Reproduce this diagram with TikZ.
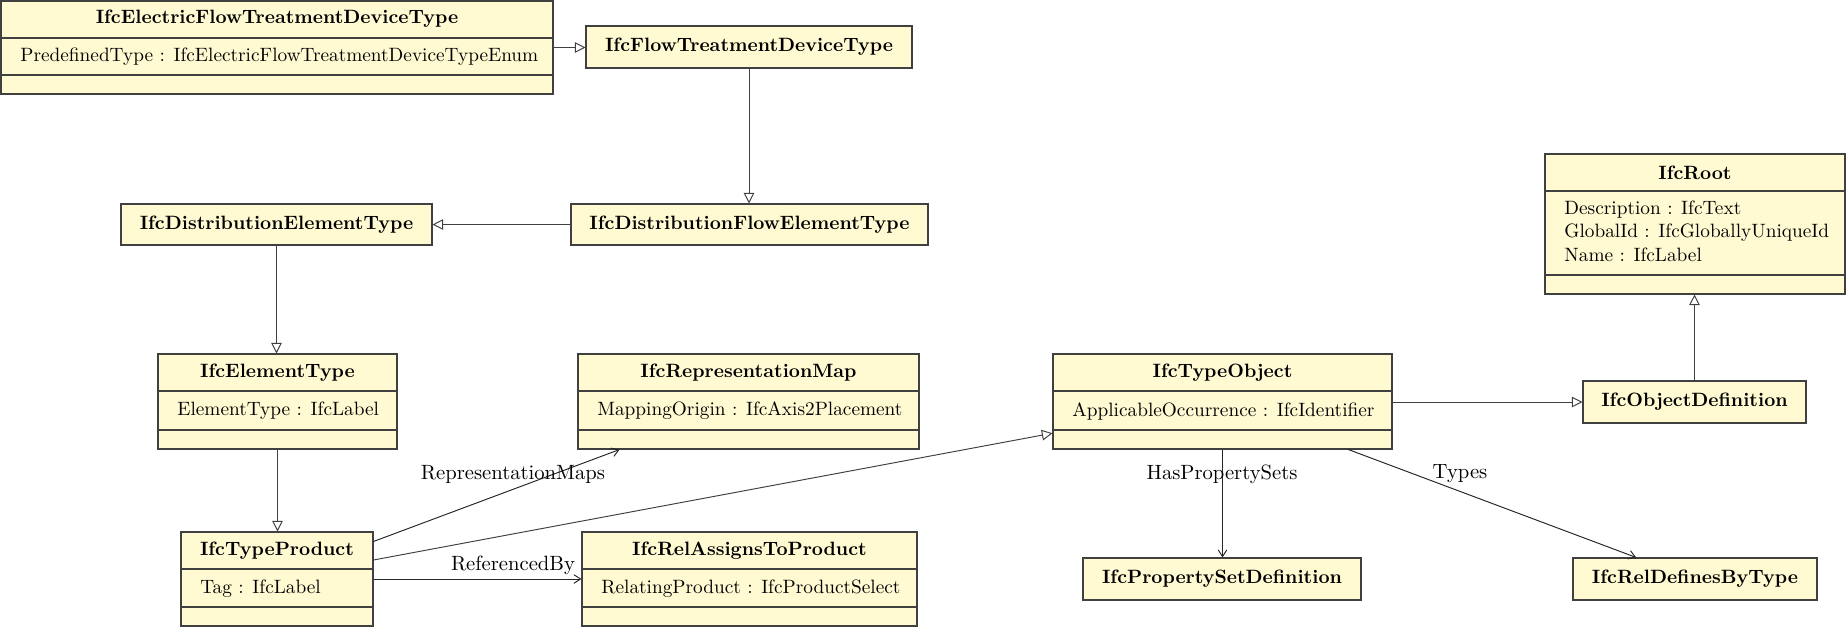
\documentclass[tikz,border=0pt]{standalone}
\usetikzlibrary{arrows.meta,fit,calc}
\definecolor{clsfill}{RGB}{255,250,210}
\definecolor{clsline}{RGB}{64,64,64}
\begin{document}
\begin{tikzpicture}[x=0.518pt,y=-0.518pt,
 cls/.style={draw=clsline, fill=clsfill, line width=0.55pt, inner sep=0pt},
 ttl/.style={font=\bfseries, inner sep=0pt},
 attr/.style={anchor=west, inner sep=0pt},
 sep/.style={draw=clsline, line width=0.55pt},
 gen/.style={draw=clsline, line width=0.5pt, -{Triangle[open,length=5.5pt,width=5.5pt]}},
 assoc/.style={draw=black!85, line width=0.5pt, -{Straight Barb[length=3.5pt,width=4.5pt]}},
 lbl/.style={inner sep=0pt, font=\fontsize{10.7}{13}\selectfont}]
\useasboundingbox (0,0) rectangle (1846,627);

% IfcElectricFlowTreatmentDeviceType
\node[cls, fit={(1,1) (553,94)}] (eftdt) {};
\draw[sep] (1,38) -- (553,38);
\draw[sep] (1,75) -- (553,75);
\node[ttl] (eftdt-t) at (277,19) {IfcElectricFlowTreatmentDeviceType};
\node[attr] (eftdt-a) at (20,56.5) {PredefinedType : IfcElectricFlowTreatmentDeviceTypeEnum};

% IfcFlowTreatmentDeviceType
\node[cls, fit={(586,26) (912,68)}] (ftdt) {};
\node[ttl] (ftdt-t) at (749,47) {IfcFlowTreatmentDeviceType};

% IfcDistributionElementType
\node[cls, fit={(121,204) (432,245)}] (det) {};
\node[ttl] (det-t) at (276.5,224.5) {IfcDistributionElementType};

% IfcDistributionFlowElementType
\node[cls, fit={(571,204) (928,245)}] (dfet) {};
\node[ttl] (dfet-t) at (749.5,224.5) {IfcDistributionFlowElementType};

% IfcRoot
\node[cls, fit={(1545,154) (1845,294)}] (root) {};
\draw[sep] (1545,191) -- (1845,191);
\draw[sep] (1545,275) -- (1845,275);
\node[ttl] (root-t) at (1695,172.5) {IfcRoot};
\node[attr] (root-a1) at (1564,210) {Description : IfcText};
\node[attr] (root-a2) at (1564,233) {GlobalId : IfcGloballyUniqueId};
\node[attr] (root-a3) at (1564,255) {Name : IfcLabel};

% IfcElementType
\node[cls, fit={(158,354) (397,449)}] (et) {};
\draw[sep] (158,391) -- (397,391);
\draw[sep] (158,430) -- (397,430);
\node[ttl] (et-t) at (277.5,372.5) {IfcElementType};
\node[attr] (et-a) at (177,411) {ElementType : IfcLabel};

% IfcRepresentationMap
\node[cls, fit={(578,354) (919,449)}] (rm) {};
\draw[sep] (578,391) -- (919,391);
\draw[sep] (578,430) -- (919,430);
\node[ttl] (rm-t) at (748.5,372.5) {IfcRepresentationMap};
\node[attr] (rm-a) at (597,411) {MappingOrigin : IfcAxis2Placement};

% IfcTypeObject
\node[cls, fit={(1053,354) (1392,449)}] (to) {};
\draw[sep] (1053,391) -- (1392,391);
\draw[sep] (1053,430) -- (1392,430);
\node[ttl] (to-t) at (1222.5,372.5) {IfcTypeObject};
\node[attr] (to-a) at (1072,411) {ApplicableOccurrence : IfcIdentifier};

% IfcObjectDefinition
\node[cls, fit={(1583,381) (1806,423)}] (od) {};
\node[ttl] (od-t) at (1694.5,402) {IfcObjectDefinition};

% IfcTypeProduct
\node[cls, fit={(181,532) (373,626)}] (tp) {};
\draw[sep] (181,569) -- (373,569);
\draw[sep] (181,607) -- (373,607);
\node[ttl] (tp-t) at (277,550.5) {IfcTypeProduct};
\node[attr] (tp-a) at (200,589) {Tag : IfcLabel};

% IfcRelAssignsToProduct
\node[cls, fit={(582,532) (917,626)}] (rel) {};
\draw[sep] (582,569) -- (917,569);
\draw[sep] (582,607) -- (917,607);
\node[ttl] (rel-t) at (749.5,550.5) {IfcRelAssignsToProduct};
\node[attr] (rel-a) at (601,589) {RelatingProduct : IfcProductSelect};

% IfcPropertySetDefinition
\node[cls, fit={(1083,558) (1361,600)}] (psd) {};
\node[ttl] (psd-t) at (1222,579) {IfcPropertySetDefinition};

% IfcRelDefinesByType
\node[cls, fit={(1573,558) (1817,600)}] (rdbt) {};
\node[ttl] (rdbt-t) at (1695,579) {IfcRelDefinesByType};

% generalisations
\draw[gen] (eftdt.east) -- (eftdt.east -| ftdt.west);
\draw[gen] (ftdt.south) -- (ftdt.south |- dfet.north);
\draw[gen] (dfet.west) -- (dfet.west -| det.east);
\draw[gen] (det.south) -- (det.south |- et.north);
\draw[gen] (et.south) -- (et.south |- tp.north);
\draw[gen] ($(tp.north east)!0.30!(tp.south east)$) -- ($(to.north west)!0.83!(to.south west)$);
\draw[gen] (od.west -| to.east) -- (od.west);
\draw[gen] (od.north) -- (od.north |- root.south);

% associations
\draw[assoc] ($(tp.north east)!0.105!(tp.south east)$) -- ($(rm.south west)!0.123!(rm.south east)$);
\draw[assoc] (tp.east) -- (tp.east -| rel.west);
\draw[assoc] (to.south) -- (to.south |- psd.north);
\draw[assoc] ($(to.south west)!0.87!(to.south east)$) -- ($(rdbt.north west)!0.26!(rdbt.north east)$);

% labels
\node[lbl] (l-rm) at (513,474) {RepresentationMaps};
\node[lbl] (l-ref) at (513,565) {ReferencedBy};
\node[lbl] (l-hps) at (1222,474) {HasPropertySets};
\node[lbl] (l-types) at (1460,474) {Types};
\end{tikzpicture}
\end{document}
